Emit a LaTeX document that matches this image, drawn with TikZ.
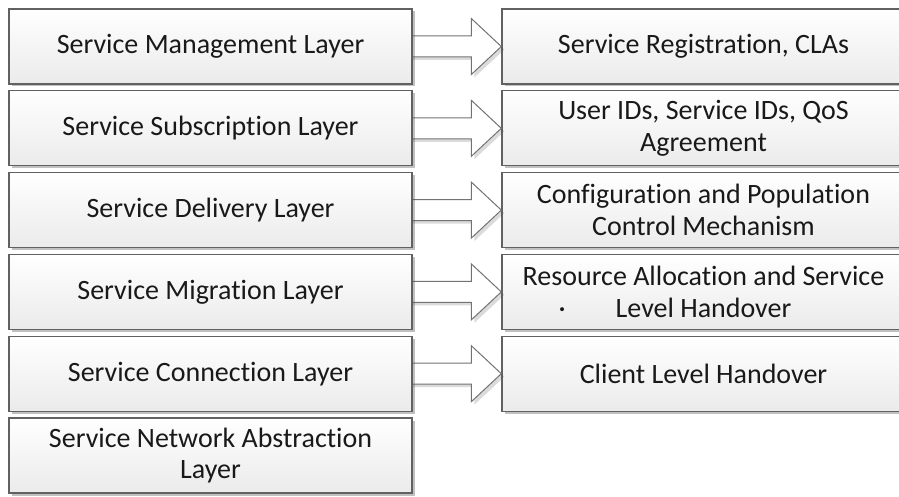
\documentclass[tikz,border=0pt]{standalone}
\usepackage{fontspec}
\setmainfont{Carlito}[Ligatures=NoCommon]
\usetikzlibrary{shadows,calc}
\begin{document}
\begin{tikzpicture}[x=1pt,y=-1pt,
  box/.style={draw=black!62, line width=1.4pt, top color=white, bottom color=black!8,
    minimum width=403pt, minimum height=75pt, align=center, inner sep=2pt,
    text=black!90, font=\fontsize{28}{31.5}\selectfont,
    drop shadow={shadow xshift=2.5pt, shadow yshift=-2.5pt, opacity=0.35, fill=black!70}},
  blockarrow/.style={draw=black!55, line width=1pt, fill=white,
    drop shadow={shadow xshift=3pt, shadow yshift=-3pt, opacity=0.2, fill=black!70}}
]
\useasboundingbox (0,0) rectangle (899,497);
\clip (0,0) rectangle (899,497);
\fill[white] (0,0) rectangle (899,497);

% right boxes
\node[box] (r1) at (703.5,46.5) {Service Registration, CLAs};
\node[box] (r2) at (703.5,128.3) {User IDs, Service IDs, QoS\\Agreement};
\node[box] (r3) at (703.5,210.1) {Configuration and Population\\Control Mechanism};
\node[box] (r4) at (703.5,291.9) {Resource Allocation and Service\\\makebox[0pt][r]{·\hspace{50pt}}Level Handover};
\node[box] (r5) at (703.5,373.7) {Client Level Handover};

% block arrows (drawn before left boxes so that their tails hide behind them)
\foreach \i in {1,...,5}{
  \path[blockarrow]
    ($(r\i.west)+(-92,-10.5)$) -- ($(r\i.west)+(-30,-10.5)$) -- ($(r\i.west)+(-30,-28)$)
    -- (r\i.west) -- ($(r\i.west)+(-30,28)$) -- ($(r\i.west)+(-30,10.5)$)
    -- ($(r\i.west)+(-92,10.5)$);
}

% left boxes
\node[box] (l1) at (210.5,46.5) {Service Management Layer};
\node[box] (l2) at (210.5,128.3) {Service Subscription Layer};
\node[box] (l3) at (210.5,210.1) {Service Delivery Layer};
\node[box] (l4) at (210.5,291.9) {Service Migration Layer};
\node[box] (l5) at (210.5,373.7) {Service Connection Layer};
\node[box] (l6) at (210.5,455.5) {Service Network Abstraction\\Layer};
\end{tikzpicture}
\end{document}
